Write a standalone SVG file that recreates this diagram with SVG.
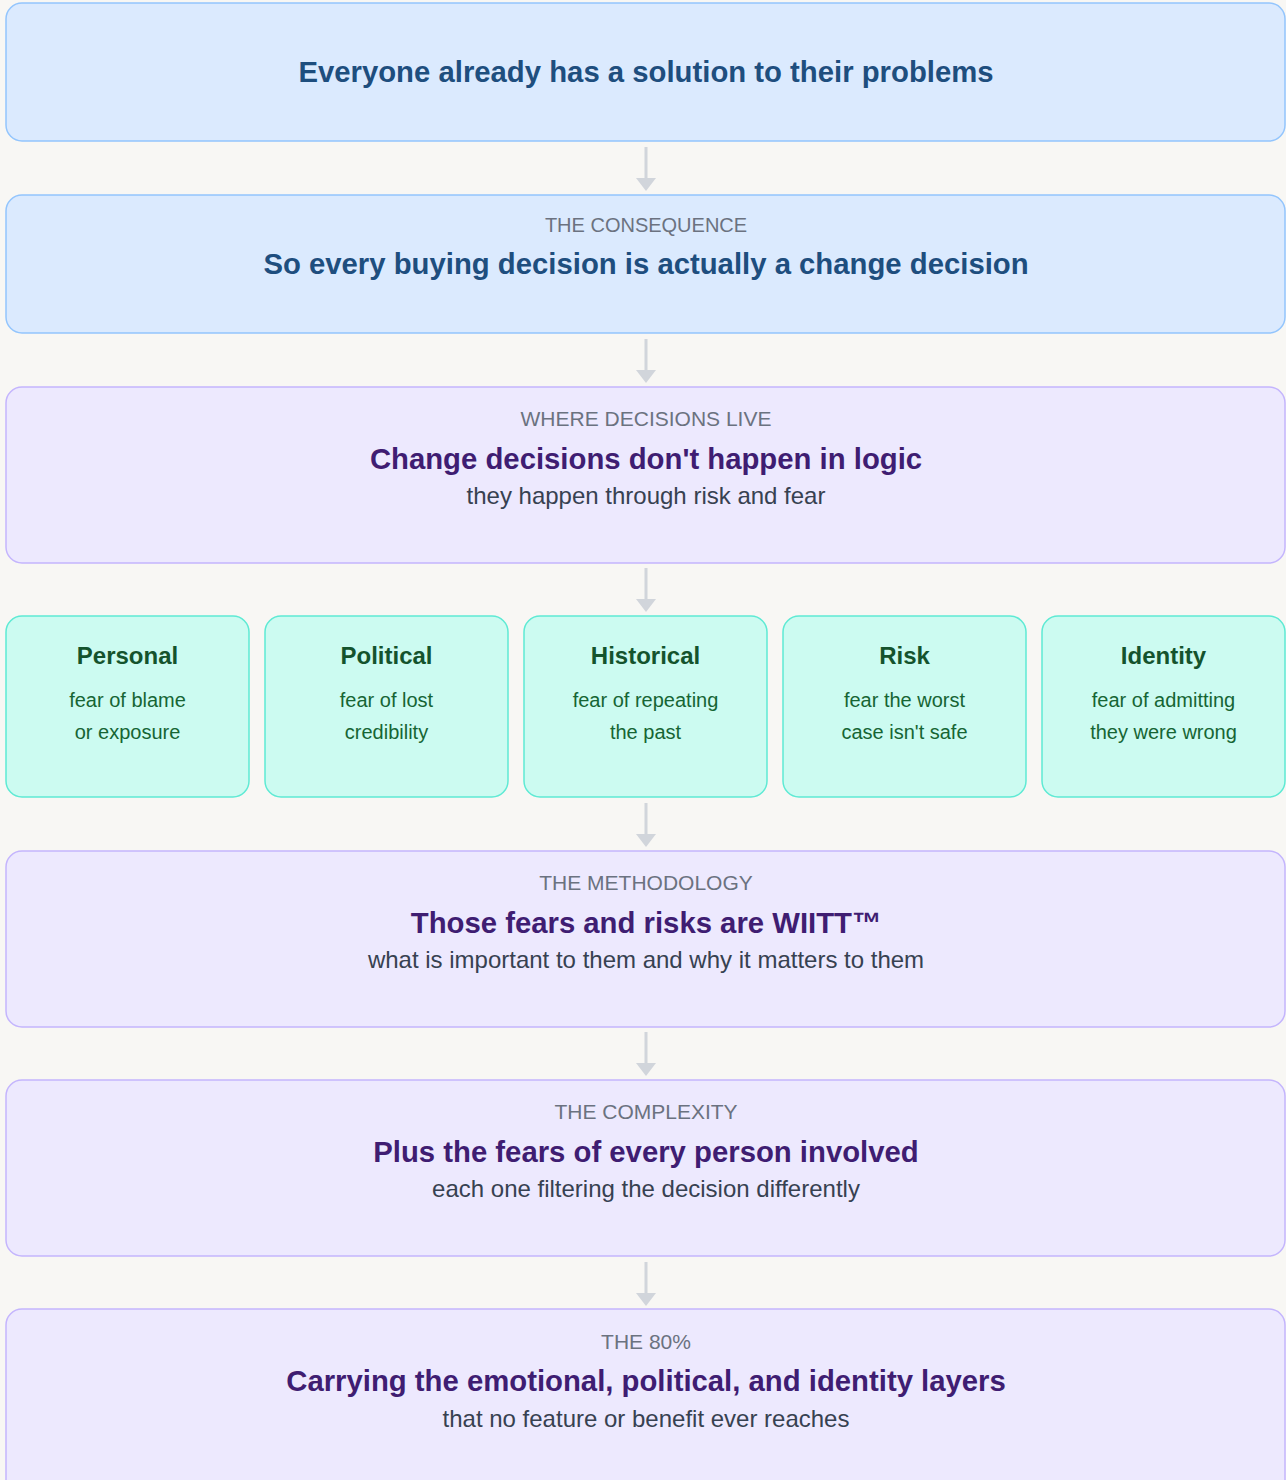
<svg xmlns="http://www.w3.org/2000/svg" width="1286" height="1480" viewBox="0 0 1286 1480">
<defs>
<marker id="ah" markerWidth="14" markerHeight="22" refX="0" refY="0" viewBox="0 -11 14 22" orient="auto" markerUnits="userSpaceOnUse">
<path d="M0,-10 L13,0 L0,10 Z" fill="#d1d5db"/>
</marker>
<style>
.bg{fill:#f8f7f4}
.blue{fill:#dbeafe;stroke:#93c5fd;stroke-width:1.5}
.purple{fill:#ede9fe;stroke:#c4b5fd;stroke-width:1.5}
.green{fill:#ccfbf1;stroke:#5eead4;stroke-width:1.5}
text{font-family:"Liberation Sans",Arial,sans-serif;text-anchor:middle}
.lbl{font-size:21px;fill:#6b7280}
.tb{font-size:29.3px;font-weight:bold;fill:#1e4e7e}
.tp{font-size:29.3px;font-weight:bold;fill:#3f1d72}
.sub{font-size:24px;fill:#374151}
.gt{font-size:24px;font-weight:bold;fill:#14532d}
.gb{font-size:20px;fill:#166534}
.conn{stroke:#d1d5db;stroke-width:3;fill:none}
</style>
</defs>
<rect class="bg" x="0" y="0" width="1286" height="1480"/>
<g id="connectors">
<path class="conn" d="M646,147 V178" marker-end="url(#ah)"/>
<path class="conn" d="M646,339 V370" marker-end="url(#ah)"/>
<path class="conn" d="M646,568 V599" marker-end="url(#ah)"/>
<path class="conn" d="M646,803 V834" marker-end="url(#ah)"/>
<path class="conn" d="M646,1032 V1063" marker-end="url(#ah)"/>
<path class="conn" d="M646,1262 V1293" marker-end="url(#ah)"/>
</g>
<g id="n1">
<rect class="blue" x="6" y="3" width="1279" height="138" rx="16"/>
<text class="tb" x="646" y="82">Everyone already has a solution to their problems</text>
</g>
<g id="n2">
<rect class="blue" x="6" y="195" width="1279" height="138" rx="16"/>
<text class="lbl" x="646" y="232" style="font-size:20px">THE CONSEQUENCE</text>
<text class="tb" x="646" y="274">So every buying decision is actually a change decision</text>
</g>
<g id="n3">
<rect class="purple" x="6" y="387" width="1279" height="176" rx="16"/>
<text class="lbl" x="646" y="426">WHERE DECISIONS LIVE</text>
<text class="tp" x="646" y="469">Change decisions don't happen in logic</text>
<text class="sub" x="646" y="504">they happen through risk and fear</text>
</g>
<g id="f1">
<rect class="green" x="6" y="616" width="243" height="181" rx="16"/>
<text class="gt" x="127.5" y="664">Personal</text>
<text class="gb" x="127.5" y="707">fear of blame</text>
<text class="gb" x="127.5" y="739">or exposure</text>
</g>
<g id="f2">
<rect class="green" x="265" y="616" width="243" height="181" rx="16"/>
<text class="gt" x="386.5" y="664">Political</text>
<text class="gb" x="386.5" y="707">fear of lost</text>
<text class="gb" x="386.5" y="739">credibility</text>
</g>
<g id="f3">
<rect class="green" x="524" y="616" width="243" height="181" rx="16"/>
<text class="gt" x="645.5" y="664">Historical</text>
<text class="gb" x="645.5" y="707">fear of repeating</text>
<text class="gb" x="645.5" y="739">the past</text>
</g>
<g id="f4">
<rect class="green" x="783" y="616" width="243" height="181" rx="16"/>
<text class="gt" x="904.5" y="664">Risk</text>
<text class="gb" x="904.5" y="707">fear the worst</text>
<text class="gb" x="904.5" y="739">case isn't safe</text>
</g>
<g id="f5">
<rect class="green" x="1042" y="616" width="243" height="181" rx="16"/>
<text class="gt" x="1163.5" y="664">Identity</text>
<text class="gb" x="1163.5" y="707">fear of admitting</text>
<text class="gb" x="1163.5" y="739">they were wrong</text>
</g>
<g id="n4">
<rect class="purple" x="6" y="851" width="1279" height="176" rx="16"/>
<text class="lbl" x="646" y="890">THE METHODOLOGY</text>
<text class="tp" x="646" y="933">Those fears and risks are WIITT™</text>
<text class="sub" x="646" y="968">what is important to them and why it matters to them</text>
</g>
<g id="n5">
<rect class="purple" x="6" y="1080" width="1279" height="176" rx="16"/>
<text class="lbl" x="646" y="1119">THE COMPLEXITY</text>
<text class="tp" x="646" y="1162">Plus the fears of every person involved</text>
<text class="sub" x="646" y="1197">each one filtering the decision differently</text>
</g>
<g id="n6">
<rect class="purple" x="6" y="1309" width="1279" height="190" rx="16"/>
<text class="lbl" x="646" y="1349">THE 80%</text>
<text class="tp" x="646" y="1391">Carrying the emotional, political, and identity layers</text>
<text class="sub" x="646" y="1427">that no feature or benefit ever reaches</text>
</g>
</svg>
